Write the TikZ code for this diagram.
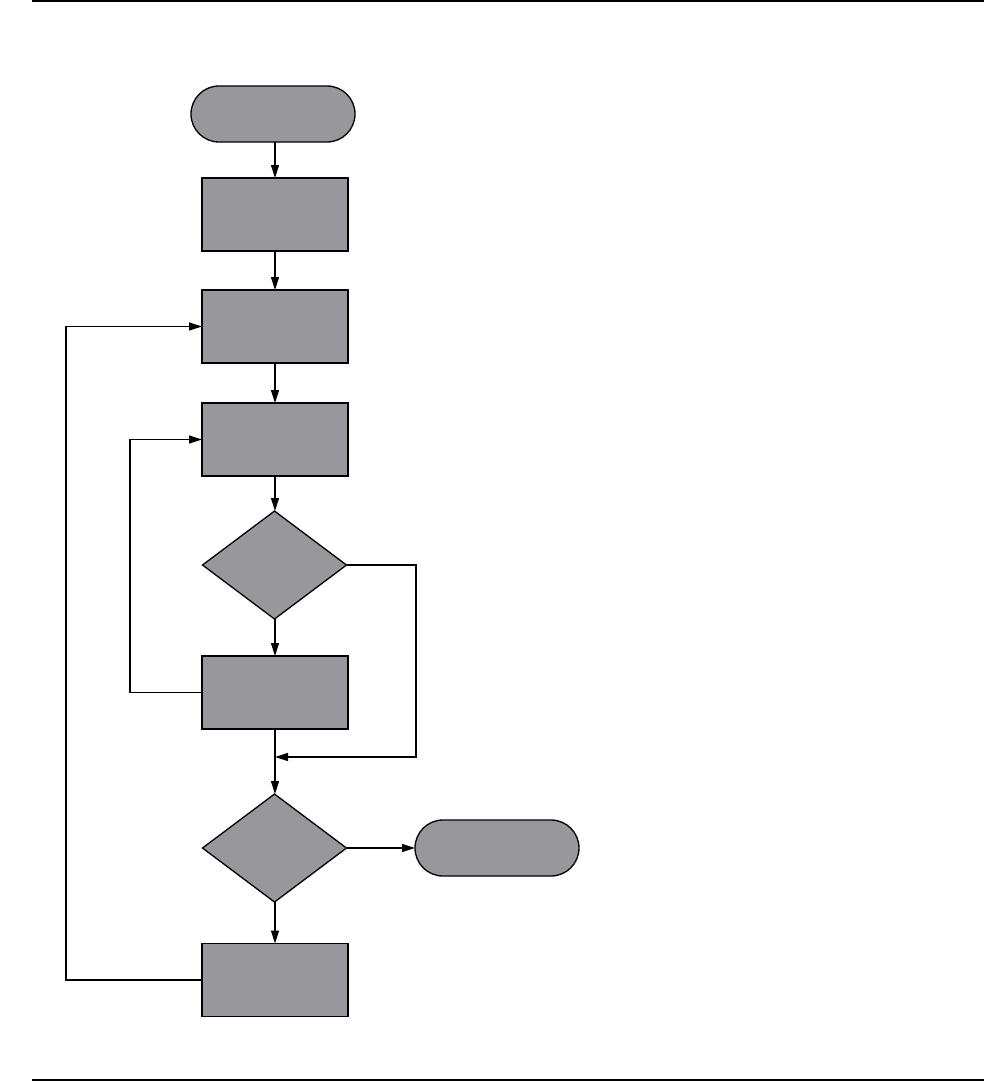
\documentclass[tikz,border=0pt]{standalone}
\usetikzlibrary{arrows.meta,shapes.geometric}
\definecolor{boxgray}{RGB}{152,151,156}
\begin{document}
\begin{tikzpicture}[x=1pt,y=-1pt,
  every node/.style={inner sep=0pt,outer sep=0pt},
  procbox/.style={draw=black,line width=1.6pt,fill=boxgray,minimum width=146pt,minimum height=73pt},
  termbox/.style={draw=black,line width=1.3pt,fill=boxgray,rounded corners=28pt,minimum width=164pt,minimum height=56pt},
  decbox/.style={draw=black,line width=1.3pt,fill=boxgray,diamond,aspect=1.333,minimum width=144pt,minimum height=108pt},
  conn/.style={line width=1.3pt,-{Triangle[length=13pt,width=8pt]}},
  plain/.style={line width=1.3pt}]
\useasboundingbox (0,0) rectangle (984,1081);
\draw[line width=2pt] (32,1.5) -- (984,1.5);
\draw[line width=2pt] (32,1079.5) -- (984,1079.5);
\node[termbox] (start) at (273,114) {};
\node[procbox] (b1) at (275,214.5) {};
\node[procbox] (b2) at (275,326.5) {};
\node[procbox] (b3) at (275,439.5) {};
\node[decbox] (d1) at (274.5,565) {};
\node[procbox] (b4) at (275,692.5) {};
\coordinate (m) at (275,757);
\node[decbox] (d2) at (274.5,848) {};
\node[termbox] (end) at (497,848) {};
\node[procbox] (b5) at (275,980) {};
\draw[conn] (start.south -| b1.north) -- (b1.north);
\draw[conn] (b1) -- (b2);
\draw[conn] (b2) -- (b3);
\draw[conn] (b3.south) -- (b3.south |- d1.north);
\draw[conn] (d1.south -| b4.north) -- (b4.north);
\draw[plain] (b4.south) -- (m);
\draw[conn] (m) -- (m |- d2.north);
\draw[conn] (d1.east) -- (416,565) -- (416,757) -- (m);
\draw[conn] (d2.east) -- (end.west);
\draw[conn] (d2.south -| b5.north) -- (b5.north);
\draw[conn] (b5.west) -- (66,980) -- (66,326.5) -- (b2.west);
\draw[conn] (b4.west) -- (130,692.5) -- (130,439.5) -- (b3.west);
\end{tikzpicture}
\end{document}
